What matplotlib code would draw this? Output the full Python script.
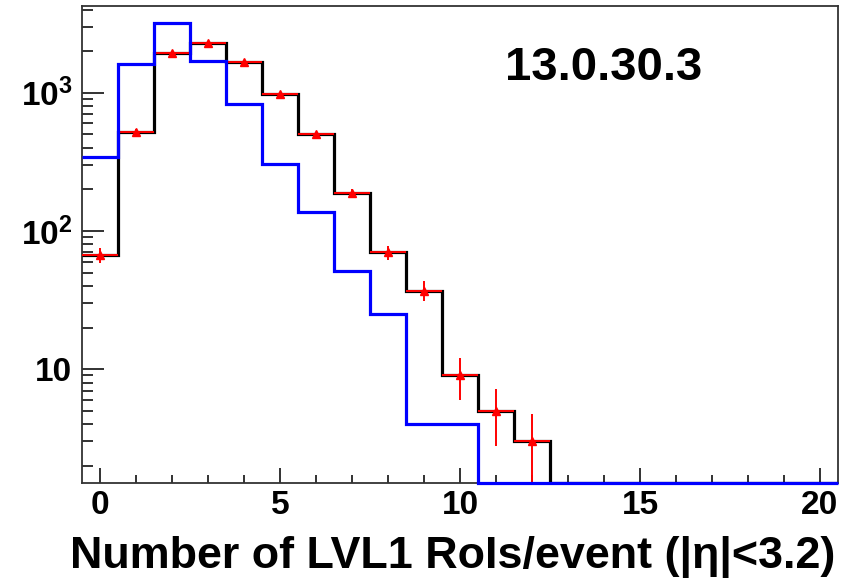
import numpy as np
import matplotlib.pyplot as plt
from matplotlib.ticker import FixedLocator, FixedFormatter, MultipleLocator, NullFormatter

# number of LVL1 RoIs per event, one bin per integer
bins = np.arange(0, 21)
data_counts = np.array([67, 522, 1928, 2299, 1660, 979, 500, 187, 70, 37, 9, 5, 3,
                        0, 0, 0, 0, 0, 0, 0, 0])
ref_counts = np.array([341, 1613, 3206, 1694, 829, 305, 137, 51, 25, 4, 4, 0, 0,
                       0, 0, 0, 0, 0, 0, 0, 0])
release = '13.0.30.3'

ymin, ymax = 1.5, 4240
font = 'Liberation Sans'
plt.rcParams['mathtext.fontset'] = 'custom'
plt.rcParams['mathtext.rm'] = 'Liberation Sans:bold'
plt.rcParams['mathtext.bf'] = 'Liberation Sans:bold'

fig = plt.figure(figsize=(8.46, 5.83), dpi=100)
ax = fig.add_axes([0.0969, 0.1715, 0.8936, 0.8182])
ax.set_yscale('log')

edges = np.append(bins - 0.5, bins[-1] + 0.5)

def floor(c):
    return np.where(c > 0, c, ymin)

# black histogram + red points with sqrt(N) errors
ax.stairs(floor(data_counts), edges, baseline=None, color='black', lw=2.3, zorder=3)
m = data_counts > 0
ax.errorbar(bins[m], data_counts[m], xerr=0.5, yerr=np.sqrt(data_counts[m]),
            fmt='^', color='red', ms=5.5, lw=1.4, capsize=0, zorder=4)

# blue histogram
ax.stairs(floor(ref_counts), edges, baseline=None, color='#0000ff', lw=2.3,
          zorder=5, clip_on=False)

ax.set_xlim(-0.5, 20.5)
ax.set_ylim(ymin, ymax)

ax.xaxis.set_major_locator(MultipleLocator(5))
ax.xaxis.set_minor_locator(MultipleLocator(1))
ax.yaxis.set_major_locator(FixedLocator([10, 100, 1000]))
ax.yaxis.set_major_formatter(FixedFormatter(['10', r'$\mathbf{10^{2}}$', r'$\mathbf{10^{3}}$']))
minor = [k * 10 ** e for e in range(0, 4) for k in range(2, 10)]
ax.yaxis.set_minor_locator(FixedLocator([v for v in minor if ymin <= v <= ymax]))
ax.yaxis.set_minor_formatter(NullFormatter())

ax.tick_params(which='both', direction='in', top=False, right=False, width=1.3,
               color='#222222')
ax.tick_params(axis='x', which='major', length=11, pad=5)
ax.tick_params(axis='x', which='minor', length=6)
ax.tick_params(axis='y', which='major', length=16, pad=7)
ax.tick_params(axis='y', which='minor', length=8)
for lab in ax.get_xticklabels() + ax.get_yticklabels():
    lab.set_fontfamily(font)
    lab.set_fontweight('bold')
    lab.set_fontsize(24)

for s in ax.spines.values():
    s.set_linewidth(1.3)
    s.set_color('#333333')

ax.set_xlabel('Number of LVL1 RoIs/event (|η|<3.2)', fontfamily=font,
              fontweight='bold', fontsize=32.3, labelpad=11, x=0.49)
ax.text(0.69, 0.87, release, transform=ax.transAxes, ha='center', va='center',
        fontfamily=font, fontweight='bold', fontsize=34)

fig.savefig('out.png', dpi=100)
